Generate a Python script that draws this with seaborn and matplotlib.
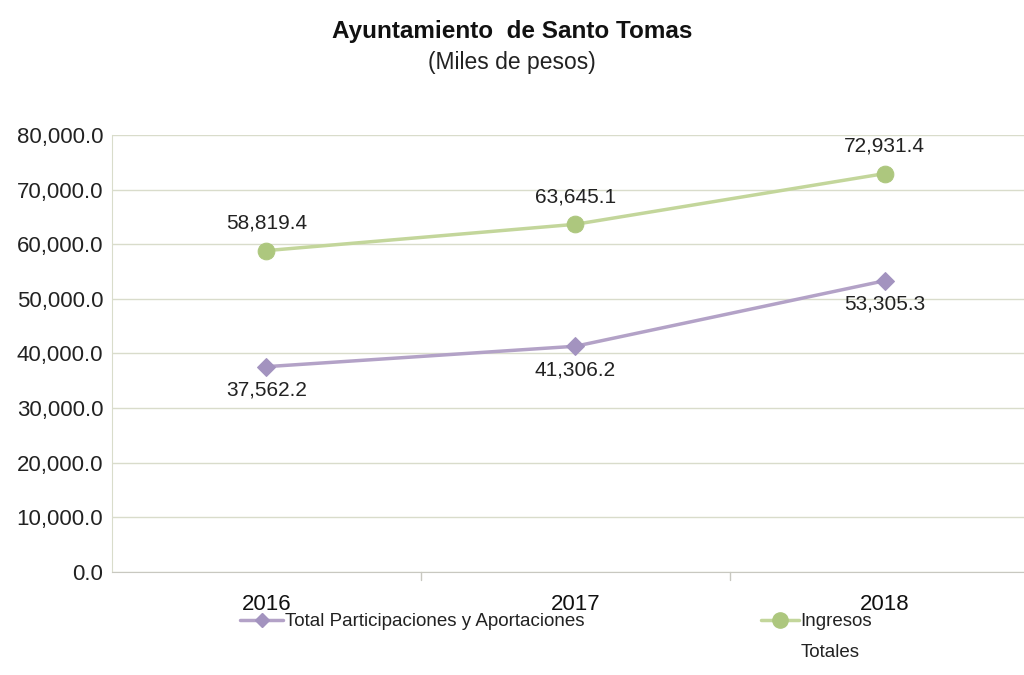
import pandas as pd
import matplotlib.pyplot as plt
import seaborn as sns
from matplotlib.lines import Line2D

years = ["2016", "2017", "2018"]
participaciones = [37562.2, 41306.2, 53305.3]
ingresos = [58819.4, 63645.1, 72931.4]

df = pd.DataFrame({"year": years * 2,
                   "valor": participaciones + ingresos,
                   "serie": ["Participaciones"] * 3 + ["Ingresos"] * 3})

sns.set_style("white")
plt.rcParams['font.family'] = ['Liberation Sans', 'DejaVu Sans']

morado = "#b3a2c7"
morado_m = "#a393bf"
verde = "#c3d69b"
verde_m = "#adc77e"
texto = "#222222"

fig = plt.figure(figsize=(10.24, 6.75), dpi=100)
ax = fig.add_axes([0.109, 0.153, 0.906, 0.647])

sns.lineplot(data=df[df.serie == "Participaciones"], x="year", y="valor", color=morado,
             linewidth=2.5, marker="D", markersize=9, markerfacecolor=morado_m,
             markeredgecolor=morado_m, ax=ax, legend=False)
sns.lineplot(data=df[df.serie == "Ingresos"], x="year", y="valor", color=verde,
             linewidth=2.5, marker="o", markersize=12, markerfacecolor=verde_m,
             markeredgecolor=verde_m, ax=ax, legend=False)

# etiquetas de datos
for i, v in enumerate(ingresos):
    ax.annotate(f"{v:,.1f}", (i, v), xytext=(0, 13), textcoords="offset points",
                ha="center", va="bottom", fontsize=15, color=texto)
for i, v in enumerate(participaciones):
    ax.annotate(f"{v:,.1f}", (i, v), xytext=(0, -10), textcoords="offset points",
                ha="center", va="top", fontsize=15, color=texto)

ax.set_ylim(0, 80000)
ax.set_xlim(-0.5, 2.5)
ax.set_yticks(range(0, 80001, 10000))
ax.set_yticklabels([f"{t:,.1f}" for t in range(0, 80001, 10000)], fontsize=16, color=texto)
ax.set_xticks([0, 1, 2])
ax.set_xticklabels(years, fontsize=16, color="#111111")
ax.tick_params(axis="x", length=0, pad=16)
ax.tick_params(axis="y", length=0, pad=6)
ax.yaxis.grid(True, color="#d9dccb", linewidth=1)
ax.set_xlabel("")
ax.set_ylabel("")
for s in ["top", "right"]:
    ax.spines[s].set_visible(False)
ax.spines["left"].set_color("#d9dccb")
ax.spines["bottom"].set_color("#c8c8c0")
# separadores de categorias
for xb in [0.5, 1.5]:
    ax.plot([xb, xb], [0, -1600], color="#c8c8c0", linewidth=1, clip_on=False)

fig.text(0.5, 0.953, "Ayuntamiento  de Santo Tomas", ha="center", va="center",
         fontsize=17.5, fontweight="bold", color="#111111")
fig.text(0.5, 0.907, "(Miles de pesos)", ha="center", va="center", fontsize=16.5, color=texto)

handles = [Line2D([], [], color=morado, linewidth=2.5, marker="D", markersize=7,
                  markerfacecolor=morado_m, markeredgecolor=morado_m),
           Line2D([], [], color=verde, linewidth=2.5, marker="o", markersize=11,
                  markerfacecolor=verde_m, markeredgecolor=verde_m)]
leg1 = fig.legend(handles[:1], ["Total Participaciones y Aportaciones"], loc="center left",
                  bbox_to_anchor=(0.218, 0.079), frameon=False, fontsize=13.5,
                  handlelength=2.3, handletextpad=0.1, labelcolor=texto)
leg2 = fig.legend(handles[1:], ["Ingresos"], loc="center left",
                  bbox_to_anchor=(0.727, 0.079), frameon=False, fontsize=13.5,
                  handlelength=2.0, handletextpad=0.1, labelcolor=texto)
fig.canvas.draw()
t = leg2.get_texts()[0]
ax.annotate("Totales", xy=(0, 0), xycoords=t, xytext=(0, -10), textcoords="offset points",
            ha="left", va="top", fontsize=13.5, color=texto, annotation_clip=False)

fig.savefig("out.png", dpi=100)
